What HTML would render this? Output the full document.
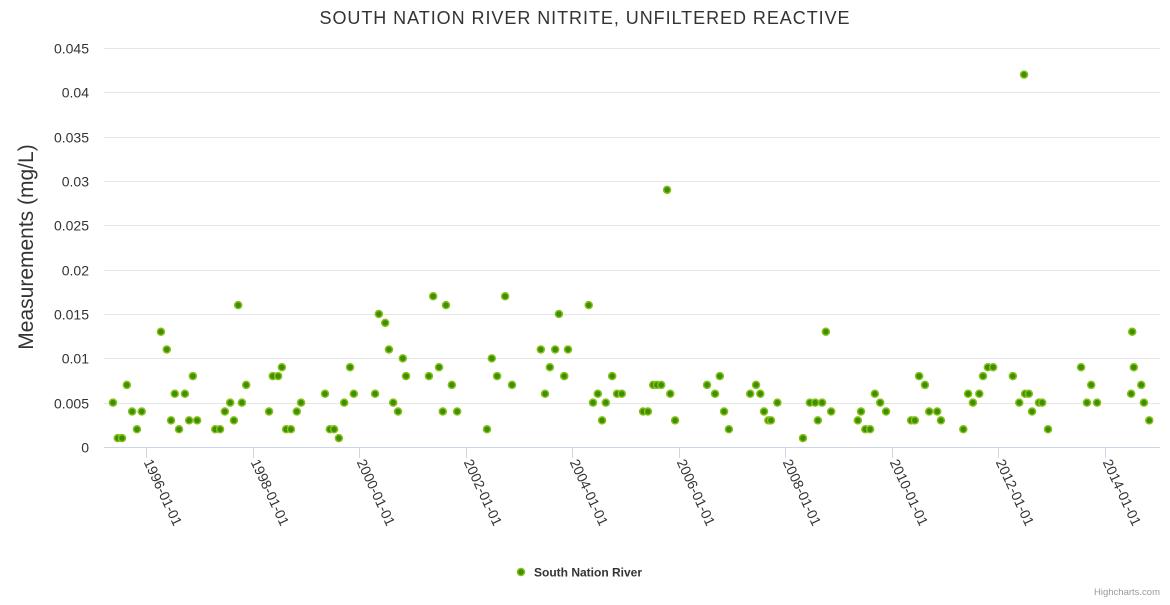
<!DOCTYPE html>
<html><head><meta charset="utf-8"><style>
body{margin:0;background:#fff;font-family:"Liberation Sans",sans-serif;}
svg text{font-family:"Liberation Sans",sans-serif;}
</style></head><body>
<svg id="chart" width="1170" height="600">
<text x="585" y="24" text-anchor="middle" font-size="18" letter-spacing="0.95" fill="#333">SOUTH NATION RIVER NITRITE, UNFILTERED REACTIVE</text>
<text transform="translate(33,247) rotate(-90)" text-anchor="middle" font-size="21" fill="#333">Measurements (mg/L)</text>
<g id="grid"></g><g id="xaxis"></g><g id="pts"></g>
<g>
<circle cx="521" cy="572" r="3.5" fill="#3d8f00" stroke="#86c01a" stroke-width="1.5"/>
<text x="534" y="576.5" font-size="12" font-weight="bold" fill="#333">South Nation River</text>
</g>
<text x="1160" y="595" text-anchor="end" font-size="9.5" fill="#999">Highcharts.com</text>
</svg>
<script>
const yTicks=[0,0.005,0.01,0.015,0.02,0.025,0.03,0.035,0.04,0.045];
const yTickLabels=["0","0.005","0.01","0.015","0.02","0.025","0.03","0.035","0.04","0.045"];
const xTicks=[1996,1998,2000,2002,2004,2006,2008,2010,2012,2014];
const xTickLabels=["1996-01-01","1998-01-01","2000-01-01","2002-01-01","2004-01-01","2006-01-01","2008-01-01","2010-01-01","2012-01-01","2014-01-01"];
const dates=[1995.38,1995.47,1995.55,1995.64,1995.74,1995.83,1995.92,1996.28,1996.39,1996.47,1996.54,1996.62,1996.73,1996.81,1996.88,1996.96,1997.30,1997.39,1997.48,1997.58,1997.65,1997.73,1997.80,1997.88,1998.31,1998.38,1998.48,1998.55,1998.63,1998.72,1998.83,1998.91,1999.36,1999.45,1999.53,1999.62,1999.72,1999.83,1999.90,2000.30,2000.37,2000.49,2000.56,2000.64,2000.73,2000.82,2000.88,2001.31,2001.39,2001.50,2001.57,2001.63,2001.74,2001.84,2002.40,2002.49,2002.59,2002.74,2002.87,2003.41,2003.49,2003.58,2003.68,2003.75,2003.85,2003.92,2004.31,2004.39,2004.48,2004.56,2004.63,2004.75,2004.84,2004.93,2005.33,2005.42,2005.52,2005.59,2005.67,2005.78,2005.84,2005.93,2006.53,2006.68,2006.77,2006.85,2006.94,2007.34,2007.45,2007.53,2007.60,2007.68,2007.73,2007.85,2008.33,2008.46,2008.56,2008.61,2008.69,2008.76,2008.86,2009.36,2009.42,2009.50,2009.59,2009.68,2009.78,2009.89,2010.36,2010.43,2010.51,2010.62,2010.70,2010.85,2010.92,2011.34,2011.43,2011.52,2011.64,2011.71,2011.80,2011.90,2012.27,2012.39,2012.48,2012.50,2012.57,2012.63,2012.76,2012.82,2012.93,2013.55,2013.66,2013.74,2013.85,2014.49,2014.51,2014.54,2014.68,2014.73,2014.83];
const values=[.005,.001,.001,.007,.004,.002,.004,.013,.011,.003,.006,.002,.006,.003,.008,.003,.002,.002,.004,.005,.003,.016,.005,.007,.004,.008,.008,.009,.002,.002,.004,.005,.006,.002,.002,.001,.005,.009,.006,.006,.015,.014,.011,.005,.004,.010,.008,.008,.017,.009,.004,.016,.007,.004,.002,.010,.008,.017,.007,.011,.006,.009,.011,.015,.008,.011,.016,.005,.006,.003,.005,.008,.006,.006,.004,.004,.007,.007,.007,.029,.006,.003,.007,.006,.008,.004,.002,.006,.007,.006,.004,.003,.003,.005,.001,.005,.005,.003,.005,.013,.004,.003,.004,.002,.002,.006,.005,.004,.003,.003,.008,.007,.004,.004,.003,.002,.006,.005,.006,.008,.009,.009,.008,.005,.042,.006,.006,.004,.005,.005,.002,.009,.005,.007,.005,.006,.013,.009,.007,.005,.003];
const NS="http://www.w3.org/2000/svg";
const L=104,R=1160,T=48,B=447;
const xs=d=>146+(d-1996)*53.28;
const ys=v=>B-(v/0.045)*(B-T);
const mk=(tag,at,par)=>{const e=document.createElementNS(NS,tag);for(const k in at)e.setAttribute(k,at[k]);par.appendChild(e);return e;};
const grid=document.getElementById('grid');
yTicks.forEach((t,i)=>{
 const y=Math.round(ys(t))+0.5;
 if(i>0){const g=mk('line',{x1:L,x2:R,y1:y,y2:y,stroke:'#e6e6e6'},grid);
 
 }
 const tx=mk('text',{x:89,y:y+5,'text-anchor':'end','font-size':14,fill:'#333'},grid);
 tx.textContent=yTickLabels[i];
 
 
});
const xa=document.getElementById('xaxis');
mk('line',{x1:L,x2:R,y1:447.5,y2:447.5,stroke:'#ccd6eb'},xa);
xTicks.forEach((t,i)=>{
 const x=Math.round(xs(t))+0.5;
 mk('line',{x1:x,x2:x,y1:448,y2:458,stroke:'#ccd6eb'},xa);
 const tx=mk('text',{transform:`translate(${x-3},${462}) rotate(65)`,'font-size':14,fill:'#333'},xa);
 tx.textContent=xTickLabels[i];
 
 
});
const pts=document.getElementById('pts');
dates.forEach((d,i)=>{
 const c=mk('circle',{cx:xs(d),cy:ys(values[i]),r:3.5,fill:'#3d8f00',stroke:'#86c01a','stroke-width':1.5},pts);
 
 
});
</script>
</body></html>
